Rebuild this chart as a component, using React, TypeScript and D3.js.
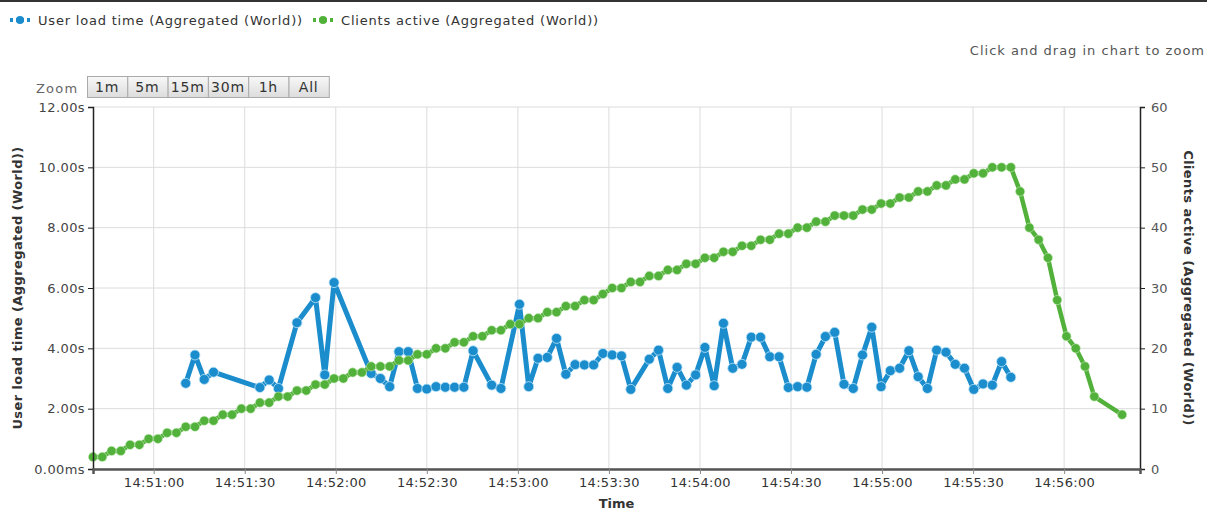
import React, { useEffect, useRef } from "react";
import * as d3 from "d3";

// samples are taken every ~3s starting at 14:50:40
const START = new Date(2014, 5, 10, 14, 50, 40);
const END = new Date(2014, 5, 10, 14, 56, 25);
const STEP_MS = 3055;

// seconds
const userLoadTime: (number | null)[] = [
  null, null, null, null, null, null, null, null, null, null,
  2.84, 3.78, 2.97, 3.21, null, null, null, null, 2.7, 2.95,
  2.67, null, 4.85, null, 5.68, 3.12, 6.18, null, null, null,
  3.17, 3.0, 2.73, 3.89, 3.89, 2.67, 2.65, 2.73, 2.71, 2.71,
  2.71, 3.92, null, 2.78, 2.67, null, 5.46, 2.73, 3.67, 3.7,
  4.33, 3.14, 3.46, 3.45, 3.45, 3.83, 3.78, 3.75, 2.64, null,
  3.64, 3.94, 2.67, 3.37, 2.78, 3.12, 4.03, 2.76, 4.83, 3.34,
  3.47, 4.37, 4.37, 3.72, 3.72, 2.7, 2.73, 2.71, 3.8, 4.39,
  4.53, 2.81, 2.67, 3.78, 4.7, 2.73, 3.26, 3.34, 3.92, 3.06,
  2.67, 3.94, 3.87, 3.47, 3.34, 2.64, 2.82, 2.78, 3.56, 3.04,
];

const clientsActive: (number | null)[] = [
  2, 2, 3, 3, 4, 4, 5, 5, 6, 6,
  7, 7, 8, 8, 9, 9, 10, 10, 11, 11,
  12, 12, 13, 13, 14, 14, 15, 15, 16, 16,
  17, 17, 17, 18, 18, 19, 19, 20, 20, 21,
  21, 22, 22, 23, 23, 24, 24, 25, 25, 26,
  26, 27, 27, 28, 28, 29, 30, 30, 31, 31,
  32, 32, 33, 33, 34, 34, 35, 35, 36, 36,
  37, 37, 38, 38, 39, 39, 40, 40, 41, 41,
  42, 42, 42, 43, 43, 44, 44, 45, 45, 46,
  46, 47, 47, 48, 48, 49, 49, 50, 50, 50,
  46, 40, 38, 35, 28, 22, 20, 17, 12, null,
  null, 9,
];

const leftTicks = [0, 2, 4, 6, 8, 10, 12];
const rightTicks = [0, 10, 20, 30, 40, 50, 60];
const zoomButtons = ["1m", "5m", "15m", "30m", "1h", "All"];
const seriesNames = ["User load time (Aggregated (World))", "Clients active (Aggregated (World))"];

const BLUE = "#1b8dcd";
const GREEN = "#52b13a";
const FONT = "DejaVu Sans, Verdana, sans-serif";

const W = 1207;
const H = 510;
const plot = { left: 93, right: 1140, top: 107, bottom: 469 };

type Pt = { t: Date; v: number };

const toPoints = (vals: (number | null)[]): Pt[] =>
  vals
    .map((v, i) => ({ t: new Date(START.getTime() + i * STEP_MS), v }))
    .filter((d): d is Pt => d.v !== null);

const App = () => {
  const gridRef = useRef<SVGGElement>(null);
  const axesRef = useRef<SVGGElement>(null);
  const seriesRef = useRef<SVGGElement>(null);

  useEffect(() => {
    const x = d3.scaleTime().domain([START, END]).range([plot.left, plot.right]);
    const yL = d3.scaleLinear().domain([0, 12]).range([plot.bottom, plot.top]);
    const yR = d3.scaleLinear().domain([0, 60]).range([plot.bottom, plot.top]);
    const xTicks = x.ticks(d3.timeSecond.every(30)!);

    // grid
    const grid = d3.select(gridRef.current);
    grid.selectAll("*").remove();
    grid
      .selectAll("line.h")
      .data(leftTicks)
      .join("line")
      .attr("x1", plot.left)
      .attr("x2", plot.right)
      .attr("y1", (d) => yL(d))
      .attr("y2", (d) => yL(d))
      .attr("stroke", "#dcdcdc");
    grid
      .selectAll("line.v")
      .data(xTicks)
      .join("line")
      .attr("x1", (d) => x(d))
      .attr("x2", (d) => x(d))
      .attr("y1", plot.top)
      .attr("y2", plot.bottom)
      .attr("stroke", "#dcdcdc");

    // axes
    const axes = d3.select(axesRef.current);
    axes.selectAll("*").remove();

    const left = axes
      .append("g")
      .attr("transform", `translate(${plot.left},0)`)
      .call(
        d3
          .axisLeft(yL)
          .tickValues(leftTicks)
          .tickSize(5)
          .tickPadding(3)
          .tickFormat((d) => (d === 0 ? "0.00ms" : `${(+d).toFixed(2)}s`))
      );
    left.select(".domain").attr("stroke", "#222").attr("stroke-width", 1.5);
    left.selectAll(".tick line").attr("stroke", "#222");
    left
      .selectAll("text")
      .attr("fill", "#444")
      .attr("font-size", 13)
      .attr("letter-spacing", 0.4)
      .attr("font-family", FONT);

    const right = axes
      .append("g")
      .attr("transform", `translate(${plot.right},0)`)
      .call(d3.axisRight(yR).tickValues(rightTicks).tickSize(5).tickPadding(6));
    right.select(".domain").attr("stroke", "#222").attr("stroke-width", 1.5);
    right.selectAll(".tick line").attr("stroke", "#222");
    right.selectAll("text").attr("fill", "#555").attr("font-size", 13).attr("font-family", FONT);

    const bottom = axes
      .append("g")
      .attr("transform", `translate(0,${plot.bottom})`)
      .call(
        d3
          .axisBottom(x)
          .tickValues(xTicks)
          .tickSize(5)
          .tickPadding(4)
          .tickFormat((d) => d3.timeFormat("%H:%M:%S")(d as Date))
      );
    bottom.select(".domain").attr("stroke", "#555").attr("stroke-width", 2.5);
    bottom.selectAll(".tick line").attr("stroke", "#888");
    bottom
      .selectAll("text")
      .attr("fill", "#333")
      .attr("font-size", 13)
      .attr("letter-spacing", 0.3)
      .attr("font-family", FONT);

    // series
    const g = d3.select(seriesRef.current);
    g.selectAll("*").remove();

    const blue = toPoints(userLoadTime);
    const green = toPoints(clientsActive);

    const blueLine = d3.line<Pt>().x((d) => x(d.t)).y((d) => yL(d.v));
    const greenLine = d3.line<Pt>().x((d) => x(d.t)).y((d) => yR(d.v));

    g.append("path")
      .attr("d", blueLine(blue))
      .attr("fill", "none")
      .attr("stroke", BLUE)
      .attr("stroke-width", 5)
      .attr("stroke-linejoin", "round");
    g.append("g")
      .selectAll("circle")
      .data(blue)
      .join("circle")
      .attr("cx", (d) => x(d.t))
      .attr("cy", (d) => yL(d.v))
      .attr("r", 5)
      .attr("fill", BLUE)
      .attr("stroke", "#bfe4f7")
      .attr("stroke-width", 0.8);

    g.append("path")
      .attr("d", greenLine(green))
      .attr("fill", "none")
      .attr("stroke", GREEN)
      .attr("stroke-width", 4.5)
      .attr("stroke-linejoin", "round");
    g.append("g")
      .selectAll("circle")
      .data(green)
      .join("circle")
      .attr("cx", (d) => x(d.t))
      .attr("cy", (d) => yR(d.v))
      .attr("r", 4.6)
      .attr("fill", GREEN)
      .attr("stroke", "#c9ecbf")
      .attr("stroke-width", 0.6);
  }, []);

  const btnW = 40.3;
  const btnX0 = 87;

  return (
    <svg
      width={W}
      height={H}
      style={{ position: "absolute", left: 0, top: 0, background: "#fff" }}
      fontFamily={FONT}
    >
      <defs>
        <linearGradient id="btn" x1="0" y1="0" x2="0" y2="1">
          <stop offset="0" stopColor="#f8f8f8" />
          <stop offset="1" stopColor="#dcdcdc" />
        </linearGradient>
      </defs>
      <rect x={0} y={0} width={W} height={2} fill="#333" />

      {/* legend */}
      {seriesNames.map((name, i) => {
        const lx = i === 0 ? 10 : 313;
        const c = i === 0 ? BLUE : GREEN;
        return (
          <g key={name}>
            <line x1={lx} x2={lx + 20} y1={20} y2={20} stroke={c} strokeWidth={4} strokeDasharray="3 3 8 3 3" />
            <circle cx={lx + 10} cy={20} r={4} fill={c} />
            <text x={lx + 28} y={25} fontSize={13} letterSpacing={0.8} fill="#333">
              {name}
            </text>
          </g>
        );
      })}

      <text x={1205} y={55} textAnchor="end" fontSize={13} letterSpacing={1} fill="#555">
        Click and drag in chart to zoom
      </text>

      {/* range selector */}
      <text x={36} y={93} fontSize={13} letterSpacing={1.2} fill="#666">
        Zoom
      </text>
      {zoomButtons.map((b, i) => (
        <g key={b}>
          <rect x={btnX0 + i * btnW + 0.5} y={76.5} width={btnW} height={21} fill="url(#btn)" stroke="#aaa" />
          <text
            x={btnX0 + i * btnW + btnW / 2}
            y={92}
            textAnchor="middle"
            fontSize={14}
            letterSpacing={0.8}
            fill="#333"
          >
            {b}
          </text>
        </g>
      ))}

      <g ref={gridRef} />
      <g ref={seriesRef} />
      <g ref={axesRef} />

      {/* axis titles */}
      <text
        transform={`translate(22,${(plot.top + plot.bottom) / 2}) rotate(-90)`}
        textAnchor="middle"
        fontSize={13}
        letterSpacing={0.4}
        fontWeight="bold"
        fill="#333"
      >
        {seriesNames[0]}
      </text>
      <text
        transform={`translate(1184,${(plot.top + plot.bottom) / 2}) rotate(90)`}
        textAnchor="middle"
        fontSize={13}
        letterSpacing={0.4}
        fontWeight="bold"
        fill="#333"
      >
        {seriesNames[1]}
      </text>
      <text x={(plot.left + plot.right) / 2} y={508} textAnchor="middle" fontSize={13} fontWeight="bold" fill="#333">
        Time
      </text>
    </svg>
  );
};

export default App;
